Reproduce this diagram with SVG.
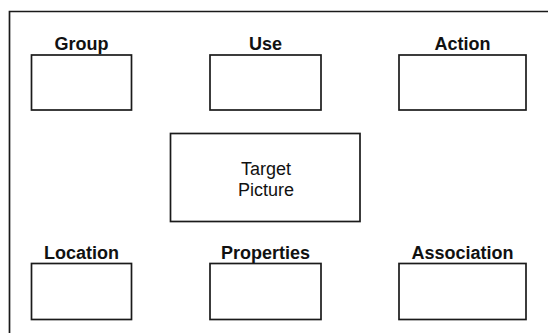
<svg xmlns="http://www.w3.org/2000/svg" width="548" height="333" viewBox="0 0 548 333">
<style>
.box{fill:#fff;stroke:#1a1a1a;stroke-width:1.7}
.lbl{font-family:"Liberation Sans",Arial,sans-serif;font-weight:bold;font-size:18px;fill:#111;text-anchor:middle}
.txt{font-family:"Liberation Sans",Arial,sans-serif;font-size:18px;fill:#111;text-anchor:middle}
</style>
<rect width="548" height="333" fill="#fff"/>
<path d="M9.5,340 V11.5 H560" fill="none" stroke="#1a1a1a" stroke-width="1.7"/>
<g id="group"><rect class="box" x="31.5" y="55" width="100" height="55"/><text class="lbl" x="81.5" y="50">Group</text></g>
<g id="use"><rect class="box" x="210" y="55" width="111" height="55"/><text class="lbl" x="265.5" y="50">Use</text></g>
<g id="action"><rect class="box" x="399" y="55" width="127" height="55"/><text class="lbl" x="462.5" y="50">Action</text></g>
<g id="target"><rect class="box" x="170.5" y="133.5" width="189.5" height="88"/><text class="txt" x="266" y="175">Target</text><text class="txt" x="266" y="195.5">Picture</text></g>
<g id="location"><rect class="box" x="31.5" y="263.5" width="100" height="56"/><text class="lbl" x="81.5" y="259">Location</text></g>
<g id="properties"><rect class="box" x="210" y="263.5" width="111" height="56"/><text class="lbl" x="265.5" y="259">Properties</text></g>
<g id="association"><rect class="box" x="399" y="263.5" width="127" height="56"/><text class="lbl" x="462.5" y="259">Association</text></g>
<g id="connectors"></g>
</svg>
